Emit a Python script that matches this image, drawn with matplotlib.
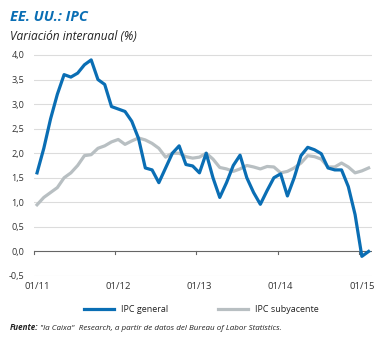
import matplotlib
matplotlib.use("Agg")
import matplotlib.pyplot as plt
import numpy as np

plt.rcParams['font.family'] = ['Open Sans', 'DejaVu Sans']

ipc_general = [1.6, 2.1, 2.7, 3.2, 3.6, 3.55, 3.63, 3.8, 3.9, 3.5, 3.4, 2.95,
               2.9, 2.85, 2.65, 2.3, 1.7, 1.66, 1.4, 1.7, 2.0, 2.15, 1.77, 1.74,
               1.6, 2.0, 1.5, 1.1, 1.4, 1.75, 1.96, 1.5, 1.2, 0.96, 1.24, 1.5,
               1.58, 1.13, 1.5, 1.95, 2.12, 2.07, 1.99, 1.7, 1.66, 1.66, 1.32, 0.75,
               -0.1, 0.0]
ipc_subyacente = [0.95, 1.1, 1.2, 1.3, 1.5, 1.6, 1.75, 1.95, 1.97, 2.1, 2.15, 2.23,
                  2.28, 2.18, 2.25, 2.31, 2.27, 2.2, 2.1, 1.92, 2.0, 2.0, 1.93, 1.9,
                  1.92, 2.0, 1.88, 1.71, 1.68, 1.63, 1.68, 1.75, 1.72, 1.68, 1.73, 1.72,
                  1.6, 1.63, 1.7, 1.8, 1.95, 1.93, 1.88, 1.72, 1.72, 1.8, 1.72, 1.6,
                  1.64, 1.7]
tick_labels = ['01/11', '01/12', '01/13', '01/14', '01/15']
y_ticks = [-0.5, 0.0, 0.5, 1.0, 1.5, 2.0, 2.5, 3.0, 3.5, 4.0]

blue = '#0a6eb4'
grey = '#b8bfc2'

fig = plt.figure(figsize=(3.9, 3.38), dpi=100)
ax = fig.add_axes([34/390, 1-276/338, (372-34)/390, (276-54)/338])

x = np.arange(len(ipc_general))
ax.plot(x, ipc_subyacente, color=grey, lw=2.3, solid_joinstyle='round', zorder=3)
ax.plot(x, ipc_general, color=blue, lw=2.3, solid_joinstyle='round', zorder=4)

ax.set_ylim(-0.5, 4.02)
ax.set_xlim(-0.45, 49.5)
for v in y_ticks:
    if v != 0.0:
        ax.axhline(v, color='#dcdcdc', lw=0.8, zorder=1)
ax.axhline(0.0, color='#666666', lw=0.8, zorder=2)

for s in ax.spines.values():
    s.set_visible(False)

ax.set_yticks(y_ticks)
ax.set_yticklabels([f"{v:.1f}".replace('.', ',') for v in y_ticks], fontsize=6.6, color='#333333')
ax.tick_params(axis='y', length=0, pad=7)
ax.set_xticks([])

tick_pos = [12*k - 0.45 for k in range(5)]
for k, tp in enumerate(tick_pos):
    ax.plot([tp, tp], [0, -0.06], color='#666666', lw=0.8, clip_on=False, zorder=2)
    ax.text(12*k, -0.62, tick_labels[k], ha='center', va='top', fontsize=6.8, color='#333333')

fig.text(10/390, 1-17/338, 'EE. UU.: IPC', fontsize=10.5, fontweight='bold', style='italic',
         color=blue, va='center', ha='left')
fig.text(10/390, 1-36/338, 'Variación interanual (%)', fontsize=8.6, style='italic',
         color='#222222', va='center', ha='left')

# legend
ly = 1 - 309/338
fig.add_artist(plt.Line2D([84/390, 114/390], [ly, ly], color=blue, lw=2.3))
fig.text(121/390, ly, 'IPC general', fontsize=6.5, va='center', ha='left', color='#222222')
fig.add_artist(plt.Line2D([218/390, 248/390], [ly, ly], color=grey, lw=2.3))
fig.text(255/390, ly, 'IPC subyacente', fontsize=6.5, va='center', ha='left', color='#222222')

sy = 1 - 328/338
t1 = fig.text(10/390, sy, 'Fuente:', fontsize=5.8, fontweight='bold', style='italic',
              va='center', ha='left', color='#222222')
fig.canvas.draw()
bb = t1.get_window_extent()
fig.text((bb.x1 + 2)/390, sy, '"la Caixa"  Research, a partir de datos del Bureau of Labor Statistics.',
         fontsize=5.8, style='italic', va='center', ha='left', color='#222222')

fig.savefig('out.png', dpi=100)
